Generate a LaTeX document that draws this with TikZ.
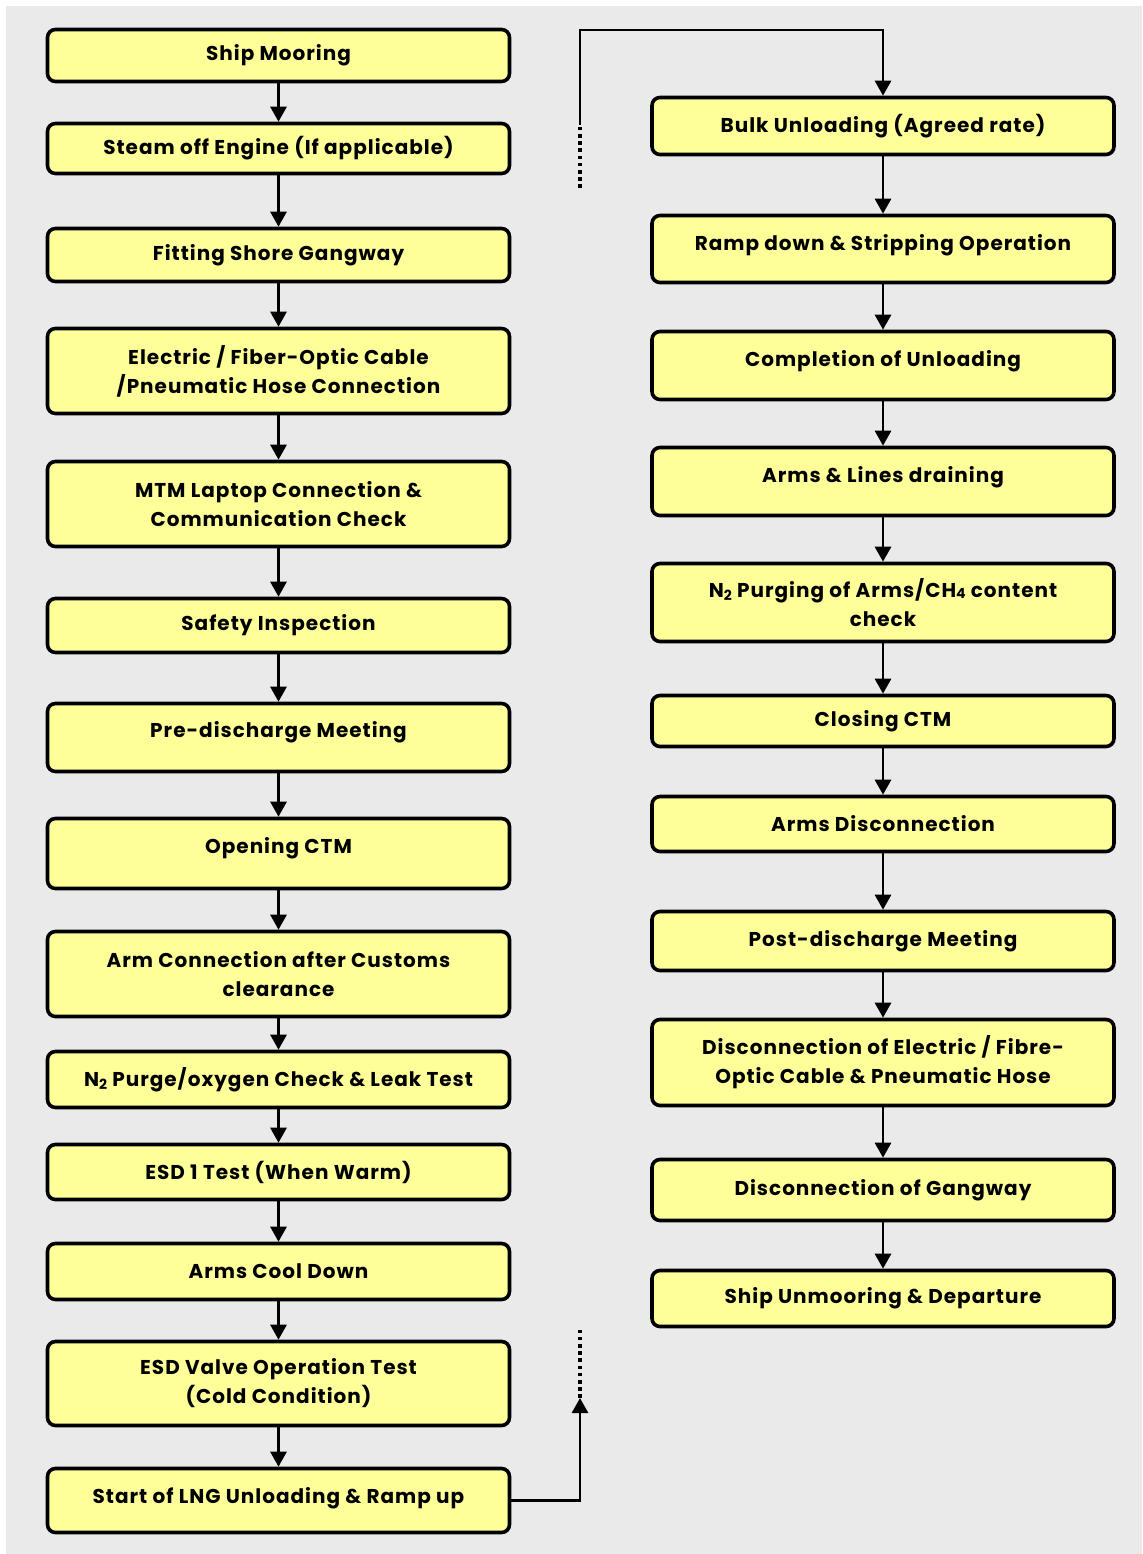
\documentclass[tikz,border=0pt]{standalone}
\usepackage{fontspec}
\setmainfont{Poppins}[LetterSpace=5]
\usetikzlibrary{arrows.meta}
\definecolor{bgc}{HTML}{EAEAEA}
\definecolor{boxc}{HTML}{FFFF99}
\newcommand{\lowsub}[1]{\raisebox{-0.3ex}{\fontsize{7}{8}\selectfont #1}}
\newcommand{\smallnum}[1]{\raisebox{-0.1ex}{\fontsize{7}{8}\selectfont #1}}
\begin{document}
\begin{tikzpicture}[x=0.5pt,y=-0.5pt,
  stepbox/.style={draw=black, line width=1.8pt, rounded corners=4pt, fill=boxc,
    minimum width=231pt, align=center, inner sep=0pt,
    font=\fontsize{10}{14.5}\selectfont\bfseries},
  flow/.style={line width=1.4pt, -{Triangle[width=8pt,length=7.5pt]}},
  dots/.style={line width=1.7pt, dash pattern=on 1.8pt off 1.8pt}
]
\useasboundingbox (0,0) rectangle (1142,1554);
\fill[bgc] (6,6) rectangle (1142,1554);

% left column
\node[stepbox, minimum height=26pt]   (L1)  at (278.5,55.5)   {Ship Mooring};
\node[stepbox, minimum height=25pt]   (L2)  at (278.5,148.5)  {Steam off Engine (If applicable)};
\node[stepbox, minimum height=26.5pt] (L3)  at (278.5,255)    {Fitting Shore Gangway};
\node[stepbox, minimum height=42.5pt] (L4)  at (278.5,371)    {Electric / Fiber-Optic Cable\\/Pneumatic Hose Connection};
\node[stepbox, minimum height=42.5pt] (L5)  at (278.5,504)    {MTM Laptop Connection \&\\Communication Check};
\node[stepbox, minimum height=27pt]   (L6)  at (278.5,625.5)  {Safety Inspection};
\node[stepbox, minimum height=34pt, text depth=8.5pt] (L7) at (278.5,737.5) {Pre-discharge Meeting};
\node[stepbox, minimum height=35pt, text depth=8.5pt] (L8) at (278.5,853.5) {Opening CTM};
\node[stepbox, minimum height=42.5pt] (L9)  at (278.5,974)    {Arm Connection after Customs\\clearance};
\node[stepbox, minimum height=28pt]   (L10) at (278.5,1079.5) {N\lowsub{2} Purge/oxygen Check \& Leak Test};
\node[stepbox, minimum height=27.5pt] (L11) at (278.5,1172)   {ESD 1 Test (When Warm)};
\node[stepbox, minimum height=28pt]   (L12) at (278.5,1271.5) {Arms Cool Down};
\node[stepbox, minimum height=42pt]   (L13) at (278.5,1383.5) {ESD Valve Operation Test\\(Cold Condition)};
\node[stepbox, minimum height=32pt, text depth=5.5pt] (L14) at (278.5,1500.5) {Start of LNG Unloading \& Ramp up};

% right column
\node[stepbox, minimum height=28.5pt] (R1)  at (883,126)    {Bulk Unloading (Agreed rate)};
\node[stepbox, minimum height=33.5pt, text depth=7pt] (R2) at (883,249) {Ramp down \& Stripping Operation};
\node[stepbox, minimum height=34pt, text depth=7.5pt] (R3) at (883,365.5) {Completion of Unloading};
\node[stepbox, minimum height=34pt, text depth=7.5pt] (R4) at (883,481.5) {Arms \& Lines draining};
\node[stepbox, minimum height=39pt]   (R5)  at (883,602.5)  {N\lowsub{2} Purging of Arms/CH\smallnum{4} content\\check};
\node[stepbox, minimum height=25.5pt] (R6)  at (883,721)    {Closing CTM};
\node[stepbox, minimum height=27.5pt] (R7)  at (883,824)    {Arms Disconnection};
\node[stepbox, minimum height=29.5pt] (R8)  at (883,941)    {Post-discharge Meeting};
\node[stepbox, minimum height=43pt]   (R9)  at (883,1062.5) {Disconnection of Electric / Fibre-\\Optic Cable \& Pneumatic Hose};
\node[stepbox, minimum height=30.5pt] (R10) at (883,1190)   {Disconnection of Gangway};
\node[stepbox, minimum height=28pt]   (R11) at (883,1298.5) {Ship Unmooring \& Departure};

% straight connectors
\foreach \a/\b in {L1/L2,L2/L3,L3/L4,L4/L5,L5/L6,L6/L7,L7/L8,L8/L9,L9/L10,L10/L11,L11/L12,L12/L13,L13/L14,
                   R1/R2,R2/R3,R3/R4,R4/R5,R5/R6,R6/R7,R7/R8,R8/R9,R9/R10,R10/R11}
  \draw[flow] (\a.south) -- (\b.north);

% continuation connectors
\coordinate (BU) at (580,1398);
\coordinate (BD) at (580,1328);
\draw[flow] (L14.east) -| (BU);
\draw[dots] (BU) -- (BD);

\coordinate (TD1) at (580,188);
\coordinate (TD2) at (580,125);
\coordinate (TC) at (580,30);
\draw[dots] (TD1) -- (TD2);
\draw[flow] (TD2) -- (TC) -| (R1.north);
\end{tikzpicture}
\end{document}
